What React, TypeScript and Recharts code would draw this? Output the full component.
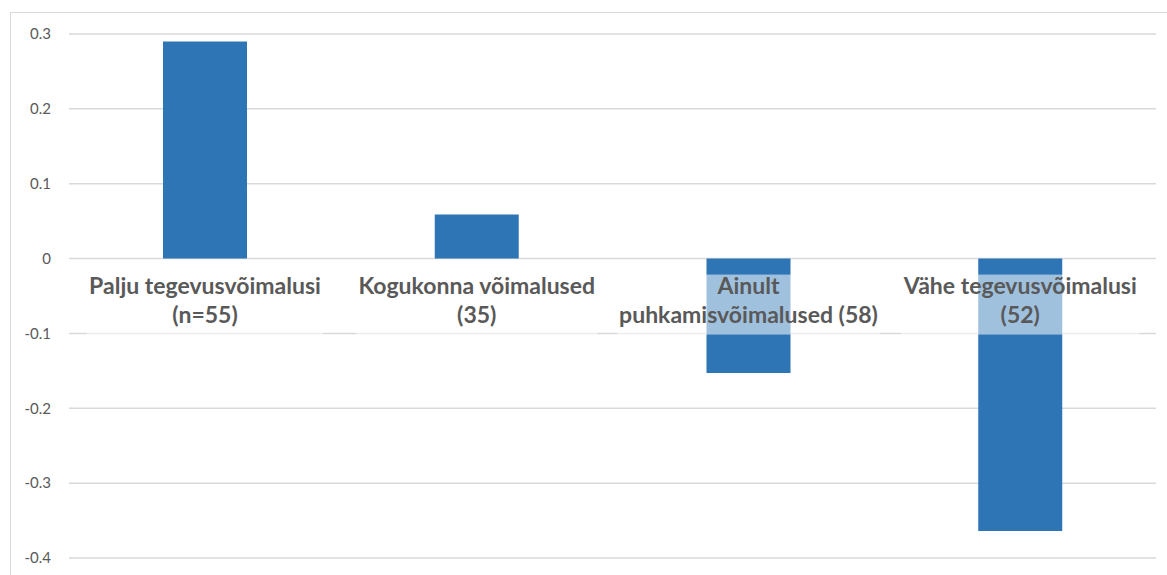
import { useLayoutEffect, useRef, useState } from "react";
import { BarChart, Bar, XAxis, YAxis, CartesianGrid, LabelList } from "recharts";

const categoryLines = [
  ["Palju tegevusvõimalusi", "(n=55)"],
  ["Kogukonna võimalused", "(35)"],
  ["Ainult", "puhkamisvõimalused (58)"],
  ["Vähe tegevusvõimalusi", "(52)"],
];
const values = [0.29, 0.059, -0.153, -0.364];
const yTicks = [0.3, 0.2, 0.1, 0, -0.1, -0.2, -0.3, -0.4];

const data = values.map((v, i) => ({ name: categoryLines[i].join(" "), value: v }));

const TEXT = "#595959";
const BAR = "#2E75B6";
const GRID = "#d9d9d9";
const FONT = "Lato, 'Open Sans', sans-serif";

// category label sitting just under the zero line, with a half-transparent white box
function CategoryLabel(props: any) {
  const vb = props.viewBox || props;
  const x = Number(vb.x);
  const y = Number(vb.y);
  const w = Number(vb.width);
  const h = Number(vb.height);
  const idx = props.index ?? 0;
  const v = values[idx];
  const zero = v < 0 ? Math.min(y, y + h) : y + h;
  const cx = x + w / 2;
  const lines = categoryLines[idx];
  const textRef = useRef<SVGGElement>(null);
  const [bw, setBw] = useState(0);

  useLayoutEffect(() => {
    if (textRef.current) {
      const b = textRef.current.getBBox();
      if (Math.abs(b.width - bw) > 0.5) setBw(b.width);
    }
  });

  return (
    <g>
      <rect
        x={cx - bw / 2 - 2}
        y={zero + 16}
        width={bw + 4}
        height={60}
        fill="#ffffff"
        fillOpacity={0.55}
      />
      <g ref={textRef}>
        {lines.map((t, i) => (
          <text
            key={i}
            x={cx}
            y={zero + 35 + i * 29}
            textAnchor="middle"
            fill={TEXT}
            fontFamily={FONT}
            fontWeight={700}
            fontSize={23}
          >
            {t}
          </text>
        ))}
      </g>
    </g>
  );
}

export default function App() {
  return (
    <div style={{ position: "absolute", left: 0, top: 0, width: 1167, height: 575, background: "#fff", overflow: "hidden" }}>
      <div
        style={{
          position: "absolute",
          left: 10,
          top: 12,
          width: 1200,
          height: 600,
          borderTop: `1px solid ${GRID}`,
          borderLeft: `1px solid ${GRID}`,
        }}
      />
      <div style={{ position: "absolute", left: 0, top: 0 }}>
        <BarChart
          width={1167}
          height={575}
          data={data}
          margin={{ top: 34, right: 11, bottom: 17, left: 0 }}
        >
          <CartesianGrid vertical={false} stroke={GRID} strokeWidth={1.5} />
          <XAxis dataKey="name" hide />
          <YAxis
            width={69}
            domain={[-0.4, 0.3]}
            ticks={yTicks}
            axisLine={false}
            tickLine={false}
            tickSize={0}
            tickMargin={18}
            tick={{ fill: TEXT, fontSize: 15, fontFamily: FONT }}
          />
          <Bar dataKey="value" fill={BAR} barSize={84} isAnimationActive={false}>
            <LabelList dataKey="value" content={<CategoryLabel />} />
          </Bar>
        </BarChart>
      </div>
    </div>
  );
}
